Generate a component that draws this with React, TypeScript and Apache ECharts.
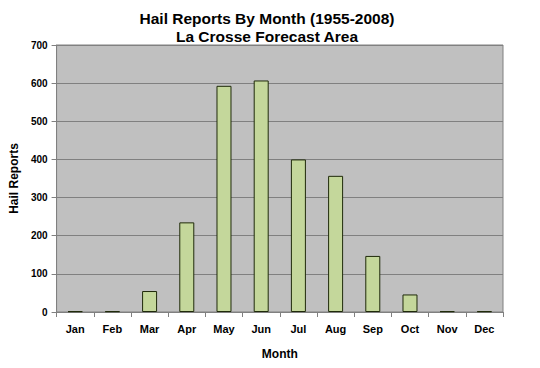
import React, { useEffect, useRef } from "react";
import * as echarts from "echarts";

const months = ["Jan", "Feb", "Mar", "Apr", "May", "Jun", "Jul", "Aug", "Sep", "Oct", "Nov", "Dec"];
const hailReports = [2, 2, 55, 235, 593, 607, 400, 357, 147, 46, 2, 2];
const yTicks = { min: 0, max: 700, interval: 100 };

export default function App() {
  const ref = useRef<HTMLDivElement>(null);
  useEffect(() => {
    const chart = echarts.init(ref.current!, null, { renderer: "svg" });
    const font = "Liberation Sans, Arial, sans-serif";
    chart.setOption({
      animation: false,
      backgroundColor: "#ffffff",
      title: {
        text: "Hail Reports By Month (1955-2008)\nLa Crosse Forecast Area",
        left: 262,
        textAlign: "center",
        top: 4,
        textStyle: { fontFamily: font, fontSize: 15.5, fontWeight: "bold", color: "#000", lineHeight: 18 },
      },
      grid: {
        left: 41,
        right: 37,
        top: 45,
        bottom: 56,
        show: true,
        backgroundColor: "#c0c0c0",
        borderColor: "#808080",
        borderWidth: 1,
      },
      xAxis: {
        type: "category",
        data: months,
        name: "Month",
        nameLocation: "middle",
        nameGap: 36,
        nameTextStyle: { fontFamily: font, fontSize: 12, fontWeight: "bold", color: "#000" },
        axisLine: { lineStyle: { color: "#808080", width: 1 } },
        axisTick: { show: true, alignWithLabel: false, length: 5, lineStyle: { color: "#808080" } },
        axisLabel: { fontFamily: font, fontSize: 11, fontWeight: "bold", color: "#000", margin: 11 },
      },
      yAxis: {
        type: "value",
        min: yTicks.min,
        max: yTicks.max,
        interval: yTicks.interval,
        name: "Hail Reports",
        nameLocation: "middle",
        nameGap: 30,
        nameRotate: 90,
        nameTextStyle: { fontFamily: font, fontSize: 12, fontWeight: "bold", color: "#000" },
        axisLine: { show: true, lineStyle: { color: "#808080", width: 1 } },
        axisTick: { show: true, length: 5, lineStyle: { color: "#808080" } },
        axisLabel: { fontFamily: font, fontSize: 10, fontWeight: "bold", color: "#000", margin: 9 },
        splitLine: { show: true, lineStyle: { color: "#808080", width: 1 } },
      },
      series: [
        {
          type: "bar",
          data: hailReports,
          barWidth: 15,
          itemStyle: { color: "#c4d79b", borderColor: "#1f2a0a", borderWidth: 1 },
        },
      ],
    });
    return () => chart.dispose();
  }, []);
  return <div ref={ref} style={{ position: "fixed", left: 0, top: 0, width: 540, height: 368 }} />;
}
